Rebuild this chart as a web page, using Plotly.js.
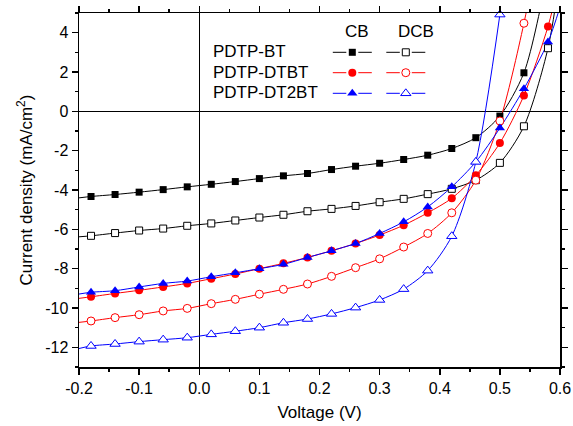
<!DOCTYPE html>
<html>
<head>
<meta charset="utf-8">
<script src="https://cdn.plot.ly/plotly-3.0.1.min.js"></script>
<style>html,body{margin:0;padding:0;background:#fff}#chart{width:573px;height:426px}</style>
</head>
<body>
<div id="chart"></div>
<script>
// Voltage points (V); markers are drawn at every entry except the first and last (line end points)
var voltage = [-0.20, -0.18, -0.14, -0.10, -0.06, -0.02, 0.02, 0.06, 0.10, 0.14, 0.18, 0.22, 0.26, 0.30, 0.34, 0.38, 0.42, 0.46, 0.50, 0.54, 0.58, 0.60];

// Current density (mA/cm2)
var btCB     = [-4.40, -4.33, -4.23, -4.11, -3.98, -3.84, -3.71, -3.57, -3.42, -3.28, -3.16, -2.96, -2.79, -2.64, -2.45, -2.23, -1.89, -1.34, -0.24, 1.96, 7.0, 9.5];
var btDCB    = [-6.38, -6.33, -6.19, -6.06, -5.96, -5.82, -5.70, -5.55, -5.40, -5.26, -5.08, -4.96, -4.81, -4.62, -4.45, -4.21, -3.94, -3.50, -2.62, -0.76, 3.21, 7.0];
var dtbtCB   = [-9.51, -9.43, -9.26, -9.10, -8.93, -8.75, -8.51, -8.27, -8.00, -7.73, -7.43, -7.09, -6.72, -6.29, -5.79, -5.16, -4.42, -3.25, -1.61, 0.81, 4.31, 6.8];
var dtbtDCB  = [-10.73, -10.66, -10.49, -10.34, -10.15, -10.02, -9.78, -9.56, -9.30, -9.05, -8.78, -8.39, -7.95, -7.50, -6.90, -6.21, -5.16, -3.50, -0.49, 4.48, 11.0, null];
var dt2btCB  = [-9.29, -9.20, -9.12, -8.93, -8.75, -8.63, -8.41, -8.21, -8.00, -7.78, -7.43, -7.09, -6.72, -6.21, -5.62, -4.86, -3.84, -2.57, -0.85, 1.15, 3.52, 5.3];
var dt2btDCB = [-12.06, -11.93, -11.83, -11.71, -11.61, -11.51, -11.34, -11.18, -11.00, -10.75, -10.56, -10.30, -9.98, -9.59, -9.04, -8.10, -6.35, -2.57, 4.92, null, null, null];

var polymers = ['PDTP-BT', 'PDTP-DTBT', 'PDTP-DT2BT'];
var solvents = ['CB', 'DCB'];

var xTickVals = [-0.2, -0.1, 0.0, 0.1, 0.2, 0.3, 0.4, 0.5, 0.6];
var xTickText = ['-0.2', '-0.1', '0.0', '0.1', '0.2', '0.3', '0.4', '0.5', '0.6'];
var yTickVals = [-12, -10, -8, -6, -4, -2, 0, 2, 4];
var yTickText = ['-12', '-10', '-8', '-6', '-4', '-2', '0', '2', '4'];

var yMax = 5, yMin = -13;

var series = [
  {y: btCB,     color: '#000000', symbol: 'square',      size: 7, open: false, row: 0, col: 0},
  {y: btDCB,    color: '#000000', symbol: 'square',      size: 7, open: true,  row: 0, col: 1},
  {y: dtbtCB,   color: '#FF0000', symbol: 'circle',      size: 8, open: false, row: 1, col: 0},
  {y: dtbtDCB,  color: '#FF0000', symbol: 'circle',      size: 8, open: true,  row: 1, col: 1},
  {y: dt2btCB,  color: '#0000FF', symbol: 'triangle-up', size: 9, open: false, row: 2, col: 0},
  {y: dt2btDCB, color: '#0000FF', symbol: 'triangle-up', size: 9, open: true,  row: 2, col: 1}
];

// Legend layout (pixel positions on an overlay frame)
var legendColCenter = [352.3, 405.8];
var legendRowY = [52.3, 72.7, 93.3];
var legendHalfLen = 19.5, legendGap = 6;
var legendLabelX = 211;
var legendHeadY = 31.5;
var legendHeadX = [356.5, 416];

function markerSpec(s) {
  return {
    symbol: s.symbol, size: s.size,
    color: s.open ? '#FFFFFF' : s.color,
    line: {color: s.color, width: s.open ? 1 : 0}
  };
}

var traces = [];
// lines
series.forEach(function (s) {
  traces.push({
    x: voltage, y: s.y, type: 'scatter', mode: 'lines',
    line: {color: s.color, width: 1, shape: 'spline', smoothing: 0.8},
    connectgaps: false, showlegend: false, hoverinfo: 'skip'
  });
});
// markers
series.forEach(function (s) {
  var mx = [], my = [];
  for (var i = 1; i < voltage.length - 1; i++) {
    if (s.y[i] !== null && s.y[i] <= yMax) { mx.push(voltage[i]); my.push(s.y[i]); }
  }
  traces.push({
    x: mx, y: my, type: 'scatter', mode: 'markers',
    marker: markerSpec(s), cliponaxis: false, showlegend: false
  });
});
// legend samples
series.forEach(function (s) {
  var c = legendColCenter[s.col], r = legendRowY[s.row];
  traces.push({
    x: [c - legendHalfLen, c - legendGap, null, c + legendGap, c + legendHalfLen],
    y: [r, r, null, r, r], xaxis: 'x2', yaxis: 'y2',
    type: 'scatter', mode: 'lines', line: {color: s.color, width: 1},
    cliponaxis: false, showlegend: false, hoverinfo: 'skip'
  });
  traces.push({
    x: [c], y: [r], xaxis: 'x2', yaxis: 'y2', type: 'scatter', mode: 'markers',
    marker: markerSpec(s), cliponaxis: false, showlegend: false, hoverinfo: 'skip'
  });
});

var font = 'Arial, "Liberation Sans", sans-serif';

var annotations = [];
polymers.forEach(function (p, i) {
  annotations.push({text: p, xref: 'x2', yref: 'y2', x: legendLabelX, y: legendRowY[i] - 0.5,
    xanchor: 'left', yanchor: 'middle', showarrow: false, font: {family: font, size: 17, color: '#000'}});
});
solvents.forEach(function (sv, i) {
  annotations.push({text: sv, xref: 'x2', yref: 'y2', x: legendHeadX[i], y: legendHeadY,
    xanchor: 'center', yanchor: 'middle', showarrow: false, font: {family: font, size: 17, color: '#000'}});
});

var axisCommon = {
  showgrid: false, showline: true, linecolor: '#000', linewidth: 1.5, mirror: 'ticks',
  ticks: 'outside', ticklen: 6, tickwidth: 1.5, tickcolor: '#000',
  zeroline: true, zerolinecolor: '#000', zerolinewidth: 1.5,
  tickfont: {family: font, size: 16, color: '#000'}, automargin: false,
  tickmode: 'array'
};

var layout = {
  width: 573, height: 426,
  margin: {l: 79, r: 13, t: 13, b: 59},
  paper_bgcolor: '#fff', plot_bgcolor: '#fff',
  font: {family: font, color: '#000'},
  xaxis: Object.assign({}, axisCommon, {
    range: [-0.2, 0.6], tickvals: xTickVals, ticktext: xTickText,
    minor: {dtick: 0.05, tick0: 0, ticks: 'outside', ticklen: 3, tickwidth: 1.5, tickcolor: '#000', showgrid: false},
    title: {text: 'Voltage (V)', font: {family: font, size: 17, color: '#000'}, standoff: 10}
  }),
  yaxis: Object.assign({}, axisCommon, {
    range: [yMin, yMax], tickvals: yTickVals, ticktext: yTickText,
    minor: {dtick: 1, tick0: 0, ticks: 'outside', ticklen: 3, tickwidth: 1.5, tickcolor: '#000', showgrid: false},
    title: {text: 'Current density (mA/cm<sup>2</sup>)', font: {family: font, size: 17, color: '#000'}, standoff: 8}
  }),
  xaxis2: {overlaying: 'x', range: [79, 560], visible: false, fixedrange: true},
  yaxis2: {overlaying: 'y', range: [367, 13], visible: false, fixedrange: true},
  annotations: annotations,
  showlegend: false
};

Plotly.newPlot('chart', traces, layout, {displayModeBar: false, staticPlot: true});
</script>
</body>
</html>
